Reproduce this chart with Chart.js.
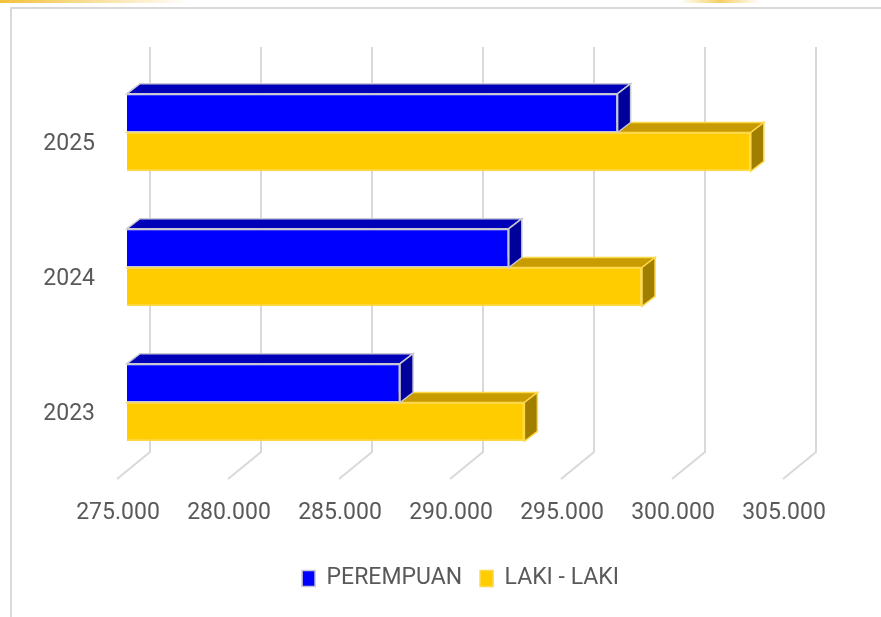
<!DOCTYPE html>
<html>
<head>
<meta charset="utf-8">
<script src="https://cdn.jsdelivr.net/npm/chart.js@4.4.1/dist/chart.umd.min.js"></script>
<style>
  html, body { margin: 0; padding: 0; background: #fff; }
  #wrap { position: relative; width: 881px; height: 617px; overflow: hidden; }
  #frame { position: absolute; left: 10px; top: 7px; width: 900px; height: 640px; border-left: 2px solid #d9d9d9; border-top: 2px solid #d9d9d9; }
  #glow1 { position: absolute; left: 0; top: 0; width: 190px; height: 3px; background: linear-gradient(to right, #f3c13a, rgba(255, 232, 160, 0)); }
  #glow2 { position: absolute; left: 680px; top: 0; width: 80px; height: 3px; background: linear-gradient(to right, rgba(255, 232, 160, 0), #f6cf63, rgba(255, 232, 160, 0)); }
  canvas { position: absolute; left: 0; top: 0; }
</style>
</head>
<body>
<div id="wrap">
  <div id="glow1"></div>
  <div id="glow2"></div>
  <div id="frame"></div>
  <canvas id="myChart" width="881" height="617"></canvas>
</div>
<script>
// data
var tahun = ["2025", "2024", "2023"];
var perempuan = [297100, 292200, 287300];
var lakiLaki = [303100, 298200, 292900];
var sumbuX = [275000, 280000, 285000, 290000, 295000, 300000, 305000];

// kedalaman 3D
var DX = 13, DY = 10;      // tebal batang
var WX = 23, WY = 18;      // dinding belakang
var FX = -10, FY = 9;      // ujung lantai depan

var sisi3D = [
    { atas: "#0000b8", samping: "#00009a", tepi: "#c8c8d4" },
    { atas: "#c89b00", samping: "#a07e00", tepi: "#ffd84a" },
];

function formatAngka(v) {
    return String(v).replace(/\B(?=(\d{3})+(?!\d))/g, ".");
}

function poligon(ctx, titik, isi, tepi) {
    ctx.beginPath();
    ctx.moveTo(titik[0][0], titik[0][1]);
    for (var i = 1; i < titik.length; i++) {
        ctx.lineTo(titik[i][0], titik[i][1]);
    }
    ctx.closePath();
    ctx.fillStyle = isi;
    ctx.fill();
    ctx.strokeStyle = tepi;
    ctx.lineWidth = 1.5;
    ctx.stroke();
}

var efek3D = {
    id: "efek3D",
    beforeDatasetsDraw: function (chart) {
        var ctx = chart.ctx;
        var area = chart.chartArea;
        var sx = chart.scales.x;
        ctx.save();
        ctx.strokeStyle = "#d9d9d9";
        ctx.lineWidth = 2;
        sx.ticks.forEach(function (t) {
            var px = sx.getPixelForValue(t.value);
            ctx.beginPath();
            ctx.moveTo(px + WX, area.top - WY);
            ctx.lineTo(px + WX, area.bottom - WY);
            ctx.lineTo(px + FX, area.bottom + FY);
            ctx.stroke();
        });
        ctx.restore();
    },
    afterDatasetDraw: function (chart, args) {
        var ctx = chart.ctx;
        var w = sisi3D[args.index];
        ctx.save();
        args.meta.data.forEach(function (bar) {
            var p = bar.getProps(["x", "y", "base", "height"], true);
            var pangkal = Math.max(p.base, chart.chartArea.left);
            var atas = p.y - p.height / 2;
            var bawah = p.y + p.height / 2;
            // sisi atas
            poligon(ctx, [
                [pangkal, atas], [pangkal + DX, atas - DY],
                [p.x + DX, atas - DY], [p.x, atas]
            ], w.atas, w.tepi);
            // sisi samping
            poligon(ctx, [
                [p.x, atas], [p.x + DX, atas - DY],
                [p.x + DX, bawah - DY], [p.x, bawah]
            ], w.samping, w.tepi);
        });
        ctx.restore();
    },
};

Chart.defaults.font.family = "Roboto";
Chart.defaults.color = "#595959";

const ctx = document.getElementById("myChart");
new Chart(ctx, {
    type: "bar",
    data: {
        labels: tahun,
        datasets: [
            {
                label: "PEREMPUAN",
                data: perempuan,
                backgroundColor: "#0000ff",
                borderColor: "#c8c8d4",
                borderWidth: 1.5,
                borderSkipped: false,
            },
            {
                label: "LAKI - LAKI",
                data: lakiLaki,
                backgroundColor: "#ffcc00",
                borderColor: "#ffd84a",
                borderWidth: 1.5,
                borderSkipped: false,
            },
        ],
    },
    options: {
        indexAxis: "y",
        responsive: false,
        animation: false,
        layout: { padding: { left: 40, right: 0, top: 65, bottom: 17 } },
        datasets: { bar: { categoryPercentage: 0.575, barPercentage: 1 } },
        scales: {
            x: {
                min: 275000,
                max: 305000,
                afterBuildTicks: function (s) {
                    s.ticks = sumbuX.map(function (v) { return { value: v }; });
                },
                afterFit: function (s) { s.height = 79; },
                grid: { display: false, drawTicks: false },
                border: { display: false },
                ticks: {
                    font: { size: 23 },
                    padding: 29,
                    labelOffset: -9,
                    maxRotation: 0,
                    callback: function (v) { return formatAngka(v); },
                },
            },
            y: {
                afterFit: function (s) { s.width = 87; },
                grid: { display: false, drawTicks: false },
                border: { display: false },
                ticks: { font: { size: 23 }, padding: 32, labelOffset: 12 },
            },
            kanan: {
                type: "category",
                position: "right",
                afterFit: function (s) { s.width = 88; },
                grid: { display: false, drawTicks: false },
                border: { display: false },
                ticks: { display: false },
            },
        },
        plugins: {
            legend: {
                position: "bottom",
                labels: {
                    font: { size: 23 },
                    boxWidth: 13,
                    boxHeight: 16,
                    padding: 18,
                },
            },
            tooltip: { enabled: false },
        },
    },
    plugins: [efek3D],
});
</script>
</body>
</html>
